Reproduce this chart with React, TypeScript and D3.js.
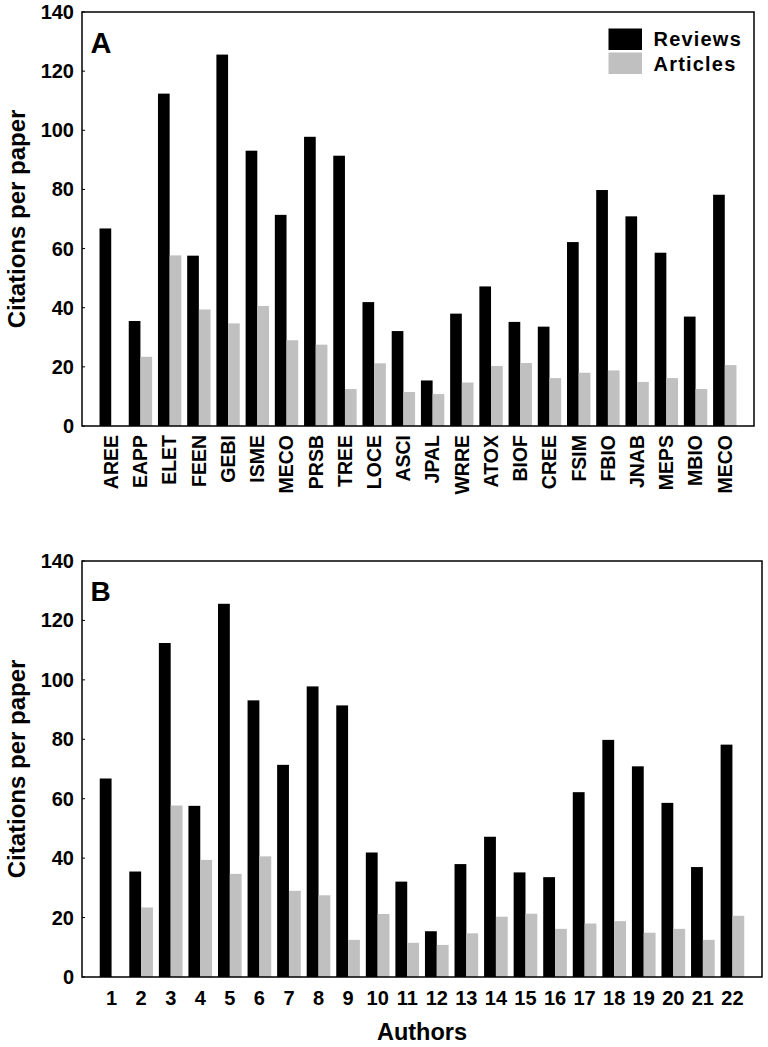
import React from "react";
import * as d3 from "d3";

const journals = ["AREE","EAPP","ELET","FEEN","GEBI","ISME","MECO","PRSB","TREE","LOCE","ASCI","JPAL","WRRE","ATOX","BIOF","CREE","FSIM","FBIO","JNAB","MEPS","MBIO","MECO"];
const authors = ["1","2","3","4","5","6","7","8","9","10","11","12","13","14","15","16","17","18","19","20","21","22"];
const reviews = [66.8, 35.5, 112.4, 57.6, 125.6, 93.1, 71.4, 97.8, 91.4, 41.9, 32.1, 15.4, 38.0, 47.2, 35.2, 33.6, 62.2, 79.8, 70.9, 58.6, 37.0, 78.2];
const articles = [0, 23.4, 57.7, 39.4, 34.7, 40.6, 29.0, 27.5, 12.5, 21.2, 11.5, 10.8, 14.7, 20.3, 21.3, 16.2, 18.0, 18.8, 14.9, 16.2, 12.5, 20.6];
const yTicks = [0, 20, 40, 60, 80, 100, 120, 140];
const seriesNames = ["Reviews", "Articles"];
const seriesColors = ["#000000", "#c0c0c0"];

const FONT = "'Liberation Sans', Arial, Helvetica, sans-serif";

type PanelProps = {
  letter: string;
  labels: string[];
  rotated: boolean;
  left: number;
  right: number;
  top: number;
  bottom: number;
  legend: boolean;
  xTitle?: string;
};

function Panel({ letter, labels, rotated, left, right, top, bottom, legend, xTitle }: PanelProps) {
  const idx = labels.map((_, i) => String(i));
  const x = d3.scaleBand<string>().domain(idx).range([left, right]).paddingInner(0.2).paddingOuter(0.6);
  const xs = d3.scaleBand<string>().domain(seriesNames).range([0, x.bandwidth()]);
  const y = d3.scaleLinear().domain([0, 140]).range([bottom, top]);
  const series = [reviews, articles];

  return (
    <g fontFamily={FONT} fontWeight="bold">
      {labels.map((_, i) =>
        series.map((vals, s) =>
          vals[i] > 0 ? (
            <rect
              key={`${i}-${s}`}
              x={(x(String(i)) as number) + (xs(seriesNames[s]) as number)}
              y={y(vals[i])}
              width={xs.bandwidth()}
              height={y(0) - y(vals[i])}
              fill={seriesColors[s]}
            />
          ) : null
        )
      )}
      <rect x={left} y={top} width={right - left} height={bottom - top} fill="none" stroke="#000" strokeWidth={1.5} />
      {yTicks.map((t) => (
        <g key={t}>
          <line x1={left} x2={left + 3} y1={y(t)} y2={y(t)} stroke="#000" strokeWidth={1} />
          <text x={74} y={y(t)} dy="0.35em" textAnchor="end" fontSize={20}>{t}</text>
        </g>
      ))}
      {labels.map((l, i) => {
        const cx = (x(String(i)) as number) + x.bandwidth() / 2;
        return rotated ? (
          <text key={i} transform={`translate(${cx},${bottom + 9}) rotate(-90)`} dy="0.35em" textAnchor="end" fontSize={19.5}>{l}</text>
        ) : (
          <text key={i} x={cx} y={bottom + 28} textAnchor="middle" fontSize={20}>{l}</text>
        );
      })}
      <text transform={`translate(17,${(top + bottom) / 2}) rotate(-90)`} dy="0.35em" textAnchor="middle" fontSize={24}>Citations per paper</text>
      <text x={left + 8.5} y={top + (letter === "A" ? 40.5 : 40)} fontSize={letter === "A" ? 29 : 28}>{letter}</text>
      {xTitle ? (
        <text x={(left + right) / 2} y={1040} textAnchor="middle" fontSize={23.5}>{xTitle}</text>
      ) : null}
      {legend
        ? seriesNames.map((n, s) => (
            <g key={n}>
              <rect x={608.5} y={28.5 + s * 24} width={33.5} height={21.5} fill={seriesColors[s]} />
              <text x={653.5} y={46 + s * 24.5} fontSize={20} letterSpacing={1.2}>{n}</text>
            </g>
          ))
        : null}
    </g>
  );
}

export default function App() {
  return (
    <svg width={768} height={1047} style={{ position: "absolute", left: 0, top: 0, background: "#fff" }}>
      <rect x={0} y={0} width={768} height={1047} fill="#fff" />
      <Panel letter="A" labels={journals} rotated={true} left={82} right={754} top={12} bottom={426} legend={true} />
      <Panel letter="B" labels={authors} rotated={false} left={82} right={762} top={561} bottom={977} legend={false} xTitle="Authors" />
    </svg>
  );
}
